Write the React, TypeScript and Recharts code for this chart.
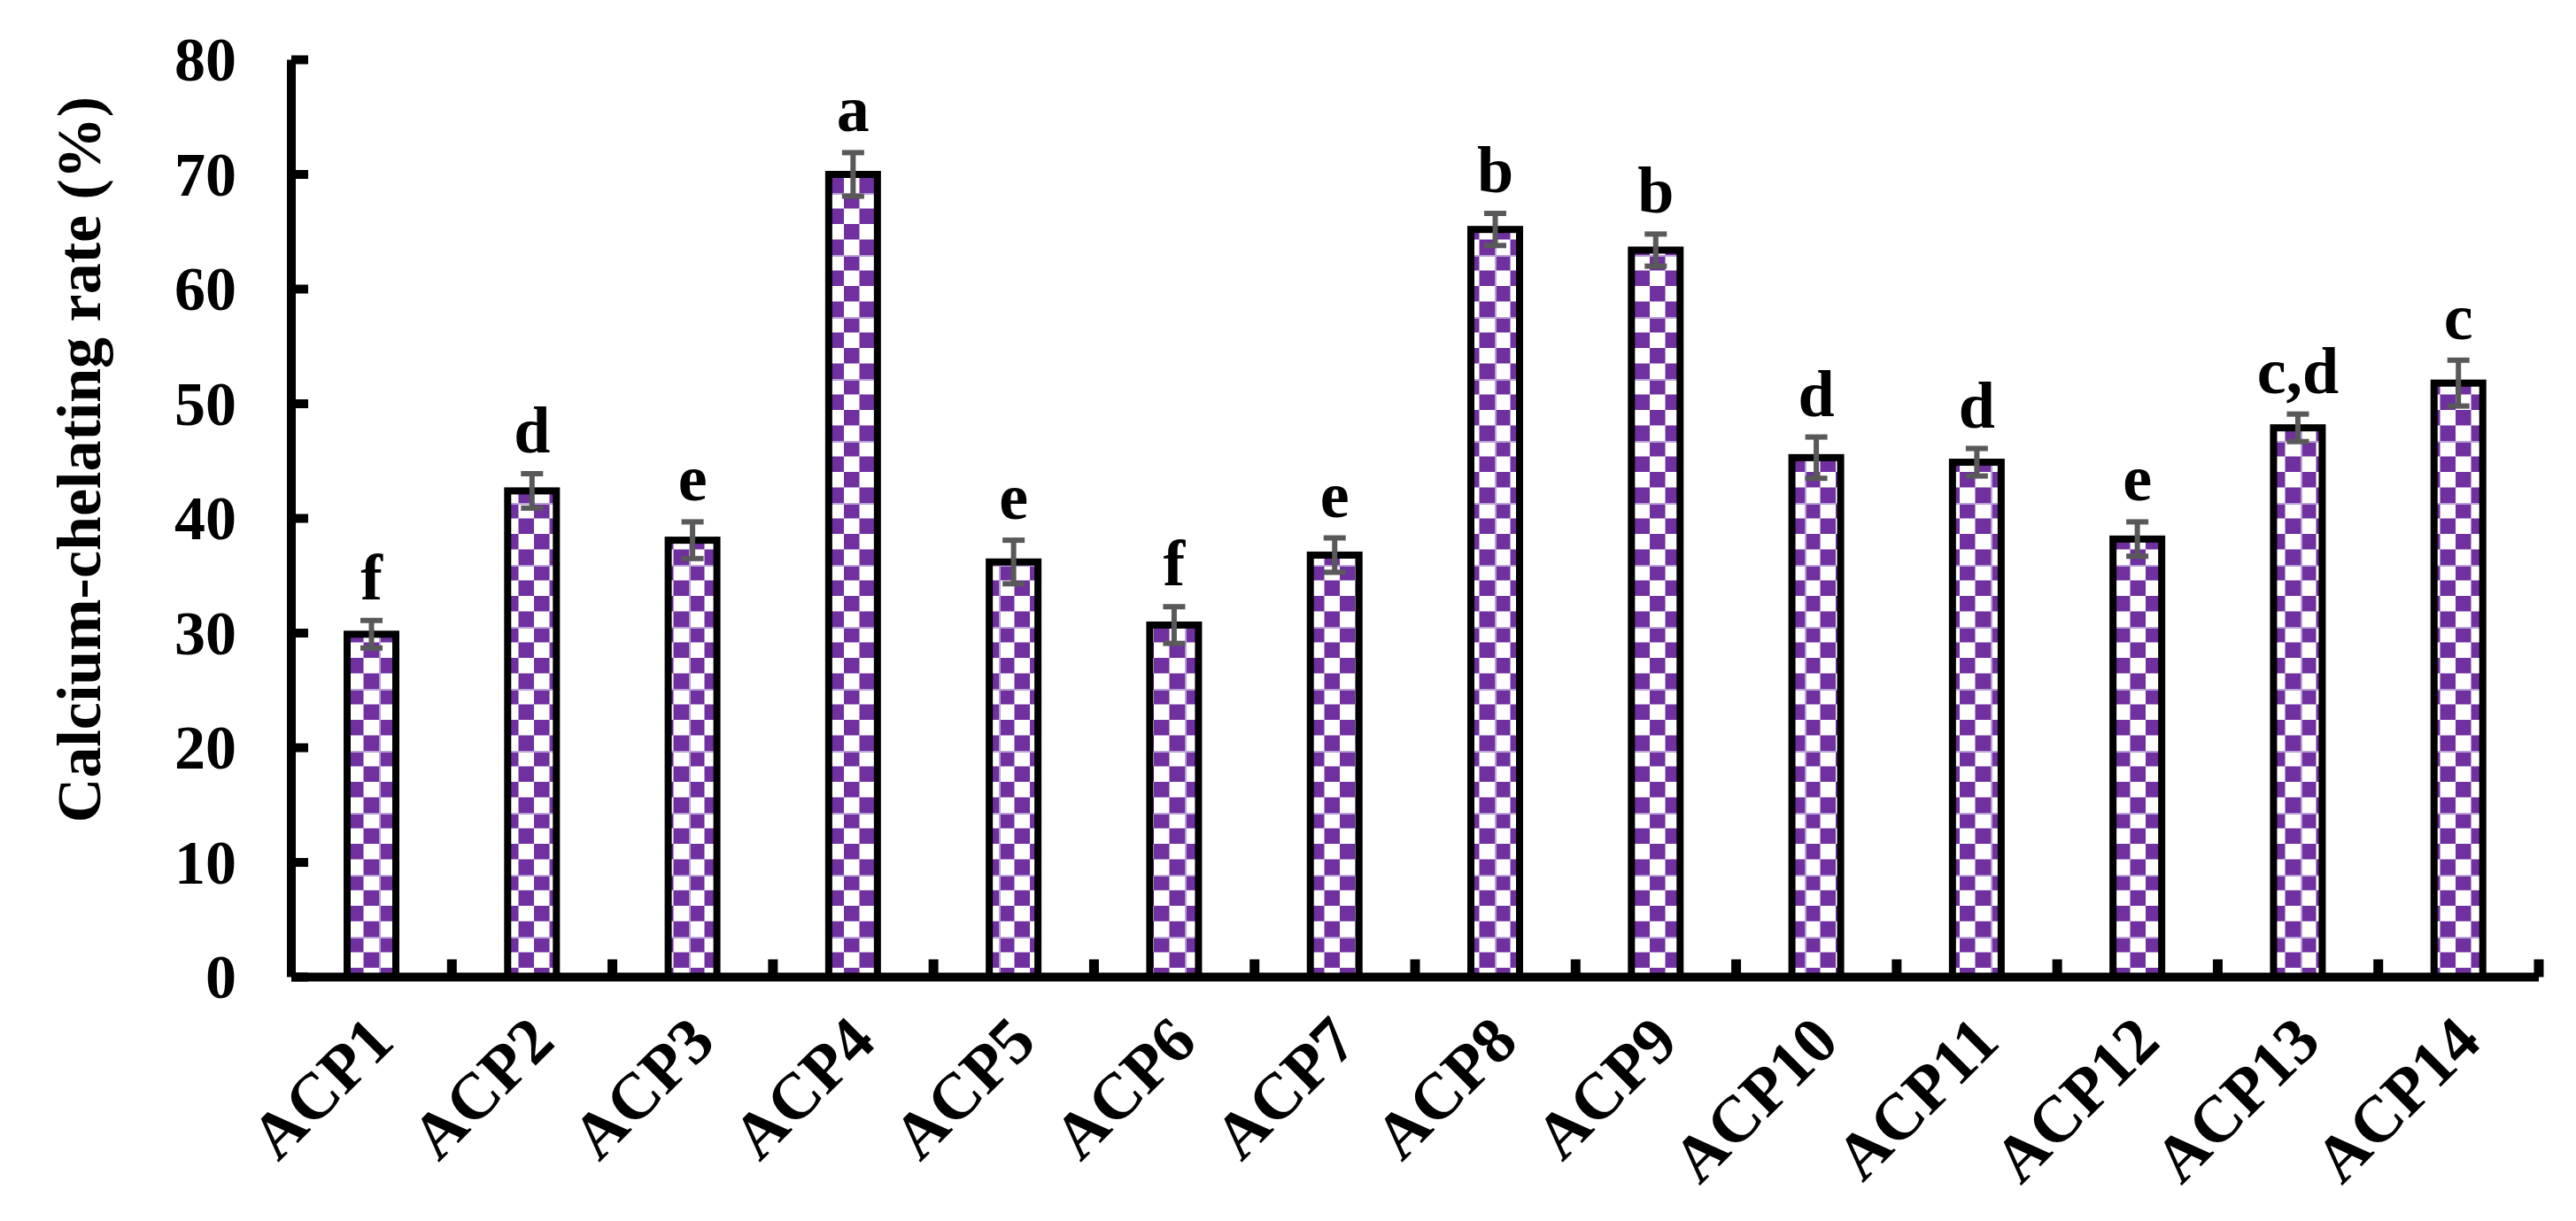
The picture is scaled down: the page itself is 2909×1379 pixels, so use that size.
import React from 'react';
import { BarChart, Bar, XAxis, YAxis, ErrorBar } from 'recharts';

// ---- data ----
const categories = ['ACP1', 'ACP2', 'ACP3', 'ACP4', 'ACP5', 'ACP6', 'ACP7', 'ACP8', 'ACP9', 'ACP10', 'ACP11', 'ACP12', 'ACP13', 'ACP14'];
const rates = [29.9, 42.4, 38.1, 70.0, 36.2, 30.7, 36.8, 65.2, 63.4, 45.3, 44.9, 38.2, 47.9, 51.8];
const errors = [1.2, 1.5, 1.6, 1.9, 1.9, 1.6, 1.5, 1.4, 1.4, 1.8, 1.2, 1.5, 1.2, 2.0];
const letters = ['f', 'd', 'e', 'a', 'e', 'f', 'e', 'b', 'b', 'd', 'd', 'e', 'c,d', 'c'];
const yTicks = [0, 10, 20, 30, 40, 50, 60, 70, 80];
const yTitle = 'Calcium-chelating rate (%)';

const data = categories.map((name, i) => ({ name, rate: rates[i], err: errors[i], letter: letters[i] }));

const W = 2880;
const H = 1350;
const FONT = "'Times New Roman', 'Liberation Serif', serif";
const PURPLE = '#7030A0';

function YTick(props: any) {
  const { x, y, payload } = props;
  return (
    <g>
      <line x1={x} x2={x + 19} y1={y} y2={y} stroke="#000" strokeWidth={10} />
      <text x={x - 62} y={y} dy="0.34em" textAnchor="end" fontFamily={FONT} fontWeight="bold" fontSize={70} fill="#000">
        {payload.value}
      </text>
    </g>
  );
}

function XTick(props: any) {
  const { x, y, payload } = props;
  const off = payload && typeof payload.offset === 'number' ? payload.offset : 0;
  const tx = x + 28;
  const ty = y + 76;
  return (
    <g>
      {off ? <line x1={x + off} x2={x + off} y1={y} y2={y - 20} stroke="#000" strokeWidth={11} /> : null}
      <text x={tx} y={ty} transform={`rotate(-45, ${tx}, ${ty})`} textAnchor="end" fontFamily={FONT} fontWeight="bold" fontSize={74} fill="#000">
        {payload.value}
      </text>
    </g>
  );
}

function CheckerBar(props: any) {
  const { x, y, width, height, payload } = props;
  if (x == null || y == null) return null;
  const pxPerUnit = payload && payload.rate ? height / payload.rate : 0;
  const errPx = payload ? payload.err * pxPerUnit : 0;
  return (
    <g>
      <rect x={x} y={y} width={width} height={height} fill="url(#checker)" stroke="#000" strokeWidth={8} />
      <text x={x + width / 2} y={y - errPx - 24} textAnchor="middle" fontFamily={FONT} fontWeight="bold" fontSize={74} fill="#000">
        {payload ? payload.letter : ''}
      </text>
    </g>
  );
}

export default function App() {
  return (
    <div style={{ position: 'relative', width: W, height: H }}>
      <svg width={0} height={0} style={{ position: 'absolute', left: 0, top: 0 }}>
        <defs>
          <pattern id="checker" patternUnits="userSpaceOnUse" width={70} height={70}>
            <rect x={0} y={0} width={70} height={70} fill="#fff" />
            <rect x={0} y={0} width={17.5} height={17.5} fill={PURPLE} />
            <rect x={35} y={0} width={17.5} height={17.5} fill={PURPLE} />
            <rect x={17.5} y={17.5} width={17.5} height={17.5} fill={PURPLE} />
            <rect x={52.5} y={17.5} width={17.5} height={17.5} fill={PURPLE} />
            <rect x={0} y={35} width={17.5} height={17.5} fill={PURPLE} />
            <rect x={35} y={35} width={17.5} height={17.5} fill={PURPLE} />
            <rect x={17.5} y={52.5} width={17.5} height={17.5} fill={PURPLE} />
            <rect x={52.5} y={52.5} width={17.5} height={17.5} fill={PURPLE} />
            <rect x={0} y={0} width={70} height={2} fill="#B9A0D6" />
            <rect x={0} y={0} width={2} height={70} fill="#B9A0D6" />
          </pattern>
        </defs>
      </svg>
      <BarChart
        width={W}
        height={H}
        data={data}
        margin={{ top: 59.5, right: 21, bottom: 0, left: 0 }}
        barSize={55}
      >
        <XAxis
          dataKey="name"
          interval={0}
          height={254.5}
          axisLine={{ stroke: '#000', strokeWidth: 10 }}
          tickLine={false}
          tickSize={0}
          tickMargin={0}
          tick={<XTick />}
        />
        <YAxis
          domain={[0, 80]}
          ticks={yTicks}
          width={321}
          axisLine={{ stroke: '#000', strokeWidth: 10 }}
          tickLine={false}
          tickSize={0}
          tickMargin={0}
          tick={<YTick />}
          allowDataOverflow
        />
        <Bar dataKey="rate" isAnimationActive={false} shape={<CheckerBar />}>
          <ErrorBar dataKey="err" width={12.5} strokeWidth={6} stroke="#595959" direction="y" />
        </Bar>
      </BarChart>
      <svg width={W} height={H} style={{ position: 'absolute', left: 0, top: 0, pointerEvents: 'none' }}>
        <text
          x={105}
          y={511}
          transform="rotate(-90, 105, 511)"
          textAnchor="middle"
          fontFamily={FONT}
          fontWeight="bold"
          fontSize={70}
          fill="#000"
        >
          {yTitle}
        </text>
      </svg>
    </div>
  );
}
